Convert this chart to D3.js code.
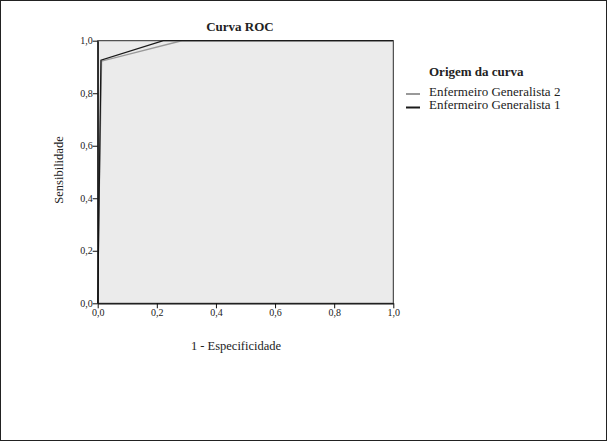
<!DOCTYPE html>
<html>
<head>
<meta charset="utf-8">
<script src="https://cdn.jsdelivr.net/npm/d3@7"></script>
<style>
  body { margin: 0; background: #fff; }
  svg text { font-family: "Liberation Serif", "DejaVu Serif", serif; fill: #222; }
</style>
</head>
<body>
<script>
// ROC points, 1 - especificidade vs sensibilidade
const eg1X = [0, 0.011, 0.222, 1]
const eg1Y = [0, 0.926, 1, 1]
const eg2X = [0, 0.004, 0.013, 0.284, 1]
const eg2Y = [0, 0.35, 0.922, 1, 1]
const tickValues = [0, 0.2, 0.4, 0.6, 0.8, 1]
const legendNames = ["Enfermeiro Generalista 2", "Enfermeiro Generalista 1"]
const legendColors = ["#999999", "#1a1a1a"]

let width = 607, height = 441
let svg = d3.select("body").append("svg")
    .attr("width", width)
    .attr("height", height)

// outer frame
svg.append("rect")
    .attr("x", 0.5).attr("y", 0.5)
    .attr("width", width - 1).attr("height", height - 1)
    .attr("fill", "none").attr("stroke", "#222")

let plotLeft = 97.7, plotRight = 393.3, plotTop = 40.7, plotBottom = 303.3
let x = d3.scaleLinear().domain([0, 1]).range([plotLeft, plotRight])
let y = d3.scaleLinear().domain([0, 1]).range([plotBottom, plotTop])

svg.append("rect")
    .attr("x", plotLeft).attr("y", plotTop)
    .attr("width", plotRight - plotLeft).attr("height", plotBottom - plotTop)
    .attr("fill", "#ebebeb").attr("stroke", "#2a2a2a").attr("stroke-width", 1)

let fmt = d => d3.format(".1f")(d).replace(".", ",")

let line = d3.line().x(d => x(d[0])).y(d => y(d[1]))
svg.append("path")
    .datum(eg2X.map((v, i) => [v, eg2Y[i]]))
    .attr("d", line).attr("fill", "none")
    .attr("stroke", legendColors[0]).attr("stroke-width", 1.4)
svg.append("path")
    .datum(eg1X.map((v, i) => [v, eg1Y[i]]))
    .attr("d", line).attr("fill", "none")
    .attr("stroke", legendColors[1]).attr("stroke-width", 1.3)

let xAxis = svg.append("g")
    .attr("transform", `translate(0,${plotBottom})`)
    .call(d3.axisBottom(x).tickValues(tickValues).tickFormat(fmt).tickSize(5).tickSizeOuter(0))
let yAxis = svg.append("g")
    .attr("transform", `translate(${plotLeft},0)`)
    .call(d3.axisLeft(y).tickValues(tickValues).tickFormat(fmt).tickSize(5).tickSizeOuter(0))

;[xAxis, yAxis].forEach(a => {
    a.selectAll("path").attr("stroke", "#111").attr("stroke-width", 1.3)
    a.selectAll("line").attr("stroke", "#111")
    a.selectAll("text").style("font-size", "10px").attr("fill", "#333")
})
xAxis.selectAll("text").attr("dy", "0.6em").attr("y", 7)
yAxis.selectAll("text").attr("x", -5)

// titles
svg.append("text").attr("x", 240).attr("y", 31)
    .attr("text-anchor", "middle").style("font-size", "13px").style("font-weight", "bold")
    .text("Curva ROC")
svg.append("text").attr("x", 236).attr("y", 350)
    .attr("text-anchor", "middle").style("font-size", "12.5px")
    .text("1 - Especificidade")
svg.append("text")
    .attr("transform", "translate(63,170) rotate(-90)")
    .attr("text-anchor", "middle").style("font-size", "12.5px")
    .text("Sensibilidade")

// legend
svg.append("text").attr("x", 429).attr("y", 76)
    .style("font-size", "13px").style("font-weight", "bold")
    .text("Origem da curva")
legendNames.forEach((name, i) => {
    let ly = 94 + i * 13.5
    svg.append("line")
        .attr("x1", 406).attr("x2", 420)
        .attr("y1", ly).attr("y2", ly)
        .attr("stroke", legendColors[i]).attr("stroke-width", 2)
    svg.append("text").attr("x", 429).attr("y", ly + 1.5)
        .style("font-size", "13px")
        .text(name)
})
</script>
</body>
</html>
